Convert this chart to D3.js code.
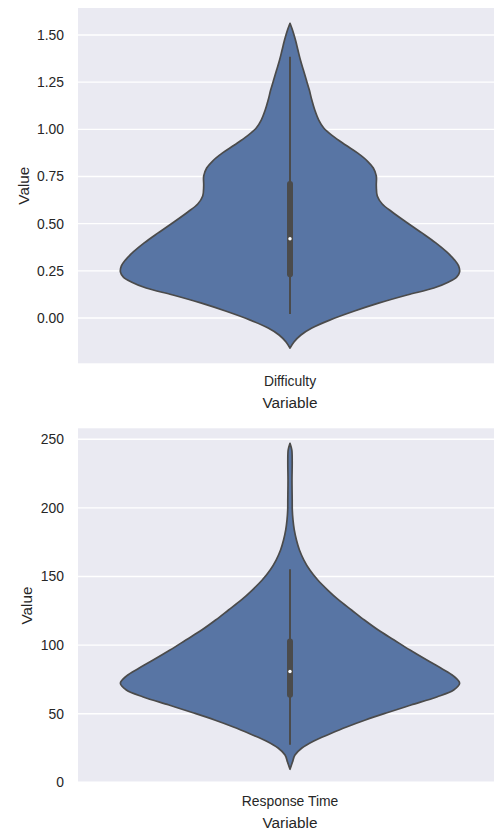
<!DOCTYPE html>
<html>
<head>
<meta charset="utf-8">
<script src="https://cdn.jsdelivr.net/npm/d3@7"></script>
<style>
  body { margin: 0; background: #fff; }
  svg { display: block; font-family: "Liberation Sans", Arial, sans-serif; }
</style>
</head>
<body>
<div id="chart"></div>
<script>
// values
const categories = ["Difficulty", "Response Time"];

// violin outline: value -> density (half width, arbitrary units; widest point = max)
const difficultyValues = [1.562, 1.526, 1.473, 1.420, 1.367, 1.314, 1.261, 1.208, 1.155, 1.102, 1.049, 1.007, 0.965, 0.917, 0.875, 0.832, 0.795, 0.753, 0.700, 0.647, 0.604, 0.562, 0.509, 0.451, 0.398, 0.350, 0.307, 0.276, 0.245, 0.217, 0.191, 0.159, 0.122, 0.080, 0.037, -0.011, -0.053, -0.090, -0.127, -0.160];
const difficultyDensity = [0, 2.5, 5.5, 8, 10.5, 13.5, 16.5, 19.5, 22, 25, 29, 34, 43, 56, 68, 78, 84, 87, 87, 88, 93, 103, 117, 133, 147, 158, 166, 170, 171, 168, 160, 145, 118, 90, 65, 40, 22, 11, 4, 0];
// whisker low, q1, median, q3, whisker high
const difficultyBox = [0.021, 0.232, 0.420, 0.710, 1.385];
const difficultyTicks = [0, 0.25, 0.5, 0.75, 1.0, 1.25, 1.5];

const responseValues = [247.1, 242.2, 233.4, 220.3, 205.7, 198.4, 191.2, 183.9, 176.6, 169.3, 162.0, 154.7, 147.4, 140.1, 132.9, 125.6, 118.3, 111.0, 103.7, 96.4, 89.1, 83.3, 77.4, 72.2, 67.3, 62.2, 56.3, 50.5, 45.4, 40.3, 35.2, 30.1, 25.0, 19.9, 14.8, 9.5];
const responseDensity = [0, 1.8, 2.2, 2, 2.2, 2.3, 3, 4.3, 6.5, 9.5, 14, 20, 28, 38, 49, 62, 75, 89, 105, 121, 138, 152, 165, 171, 165, 148, 122, 97, 76, 57, 40, 24, 12, 5, 2.5, 0];
const responseBox = [27.4, 63.8, 80.8, 102.6, 155.3];
const responseTicks = [0, 50, 100, 150, 200, 250];

const panels = [
  { name: categories[0], values: difficultyValues, density: difficultyDensity, box: difficultyBox,
    ticks: difficultyTicks, fmt: d3.format(".2f"), domain: [-0.240, 1.643], top: 8, bottom: 363.3, labelX: 24 },
  { name: categories[1], values: responseValues, density: responseDensity, box: responseBox,
    ticks: responseTicks, fmt: d3.format("d"), domain: [-0.3, 258], top: 428.3, bottom: 782.7, labelX: 27 }
];

const width = 494, height = 830;
const left = 78, right = 502;
const textColor = "#262626";
const lineColor = "#4b4b4b";

const svg = d3.select("#chart").append("svg")
  .attr("width", width)
  .attr("height", height);

panels.forEach(p => {
  const x = d3.scaleBand().domain([p.name]).range([left, right]).padding(0);
  const y = d3.scaleLinear().domain(p.domain).range([p.bottom, p.top]);
  // violin takes 80% of the band
  const w = d3.scaleLinear().domain([0, d3.max(p.density)]).range([0, 0.4 * x.bandwidth()]);
  const cx = x(p.name) + x.bandwidth() / 2;

  const g = svg.append("g");

  g.append("rect")
    .attr("x", left).attr("y", p.top)
    .attr("width", right - left).attr("height", p.bottom - p.top)
    .attr("fill", "#eaeaf2");

  // horizontal grid
  g.selectAll(".grid").data(p.ticks).enter()
    .append("line")
    .attr("x1", left).attr("x2", right)
    .attr("y1", d => y(d)).attr("y2", d => y(d))
    .attr("stroke", "#fff").attr("stroke-width", 1.4);

  // violin body
  const pts = p.values.map((v, j) => ({ v: v, d: p.density[j] }));
  const area = d3.area()
    .y(d => y(d.v))
    .x0(d => cx - w(d.d))
    .x1(d => cx + w(d.d))
    .curve(d3.curveCatmullRom);
  g.append("path")
    .datum(pts)
    .attr("d", area)
    .attr("fill", "#5875a4")
    .attr("stroke", lineColor)
    .attr("stroke-width", 1.7)
    .attr("stroke-linejoin", "round");

  // inner box
  g.append("line")
    .attr("x1", cx).attr("x2", cx)
    .attr("y1", y(p.box[0])).attr("y2", y(p.box[4]))
    .attr("stroke", lineColor).attr("stroke-width", 2);
  g.append("line")
    .attr("x1", cx).attr("x2", cx)
    .attr("y1", y(p.box[1])).attr("y2", y(p.box[3]))
    .attr("stroke", lineColor).attr("stroke-width", 6)
    .attr("stroke-linecap", "round");
  g.append("circle")
    .attr("cx", cx).attr("cy", y(p.box[2]))
    .attr("r", 1.7)
    .attr("fill", "#fff");

  // y axis
  const yAxis = d3.axisLeft(y).tickValues(p.ticks).tickFormat(p.fmt).tickSize(0).tickPadding(14);
  const ya = g.append("g").attr("transform", `translate(${left},0)`).call(yAxis);
  ya.select(".domain").remove();
  ya.selectAll("text")
    .attr("font-size", 13.9)
    .attr("fill", textColor)
    .attr("font-family", "Liberation Sans, Arial, sans-serif");

  // x axis
  const xAxis = d3.axisBottom(x).tickSize(0).tickPadding(13);
  const xa = g.append("g").attr("transform", `translate(0,${p.bottom})`).call(xAxis);
  xa.select(".domain").remove();
  xa.selectAll("text")
    .attr("font-size", 13.9)
    .attr("fill", textColor)
    .attr("font-family", "Liberation Sans, Arial, sans-serif");

  // axis labels
  g.append("text")
    .attr("x", cx).attr("y", p.bottom + 44.8)
    .attr("text-anchor", "middle")
    .attr("font-size", 15.3)
    .attr("fill", textColor)
    .text("Variable");
  g.append("text")
    .attr("transform", `translate(${p.labelX + 5},${(p.top + p.bottom) / 2}) rotate(-90)`)
    .attr("text-anchor", "middle")
    .attr("font-size", 15.3)
    .attr("fill", textColor)
    .text("Value");
});
</script>
</body>
</html>
